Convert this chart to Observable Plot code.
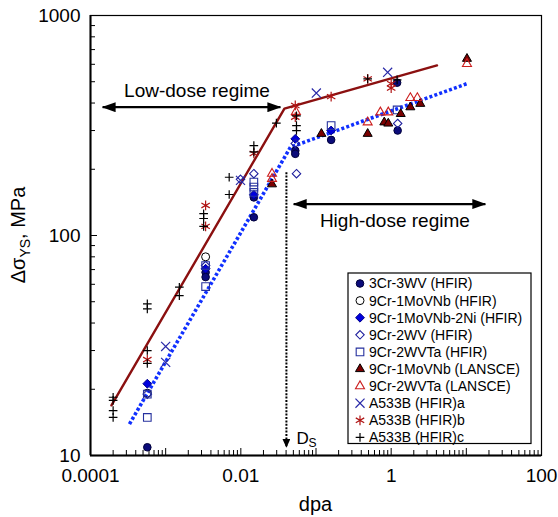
<!DOCTYPE html>
<html><head><meta charset="utf-8">
<script src="https://cdn.jsdelivr.net/npm/d3@7"></script>
<script src="https://cdn.jsdelivr.net/npm/@observablehq/plot@0.6"></script>
<style>body{margin:0;background:#fff;} #chart{width:558px;height:517px;}</style>
</head><body><div id="chart"></div>
<script>
// ---------------- data (dpa, Δσ_YS MPa) ----------------
const cr3wvHFIR      = [[5.7e-4,10.9],[3.4e-3,68],[3.4e-3,64.7],[0.0149,149],[0.0149,121],[0.053,243],[0.053,235],[0.159,272],[1.22,300],[1.2,495]];
const mo9VNbHFIR     = [[5.7e-4,19.2],[3.4e-3,80]];
const mo9VNb2NiHFIR  = [[5.7e-4,21.2],[3.4e-3,70.6],[0.0149,153],[0.053,275],[0.159,300]];
const wv9HFIR        = [[5.7e-4,19],[3.4e-3,73],[0.0099,180],[0.0149,191],[0.055,191],[0.053,262],[1.22,323]];
const wvta9HFIR      = [[5.7e-4,14.9],[5.7e-4,19],[3.4e-3,73],[3.4e-3,58.6],[0.0149,175],[0.0149,166],[0.0149,157],[0.159,316],[1.2,372]];
const mo9VNbLANSCE   = [[0.026,171],[0.118,290],[0.487,290],[0.81,327],[0.915,323],[1.34,357],[1.8,383],[2.44,397],[10.2,636]];
const wvta9LANSCE    = [[0.026,191],[0.026,181],[0.054,365],[0.487,327],[0.718,363],[0.915,363],[1.8,422],[2.23,422],[10.2,603]];
const a533bA         = [[1.0e-3,31.3],[1.0e-3,26.5],[0.0099,178],[0.101,444],[0.898,552]];
const a533bB         = [[5.7e-4,27.3],[3.4e-3,137],[3.4e-3,110],[0.0149,236],[0.053,390],[0.053,345],[0.159,428],[0.487,515],[1.0,490],[1.0,468]];
const a533bC         = [[2e-4,18.4],[2e-4,17.8],[2e-4,16.0],[2e-4,14.9],[5.7e-4,30],[5.7e-4,26.2],[5.7e-4,48.9],[5.7e-4,46.4],[1.52e-3,58.2],[1.52e-3,53.3],[3.2e-3,125.6],[3.2e-3,119.5],[3.2e-3,110],[7.0e-3,184],[7.0e-3,153.6],[0.0149,256],[0.0149,240],[0.055,350],[0.055,316],[0.055,300],[0.0297,324],[0.487,515],[1.2,510]];

// fitted trend lines
const redFit  = [[1.9e-4,16.9],[0.038,377],[4.07,593]];
const blueFit = [[3.3e-4,13.9],[0.0457,252],[10.2,490]];

// annotations
const lowDoseArrow  = [[1.45e-4, 0.0336, 383]];
const highDoseArrow = [[0.0505, 17.9, 139]];
const dsLine        = [[0.0404, 194, 10.95]];
const lowDoseLabel  = [[2.61e-3, 425, "Low-dose regime"]];
const highDoseLabel = [[1.12, 109, "High-dose regime"]];
const dsLabel       = [[0.0404, 11.3, "D"]];
const dsSub         = [[0.0404, 10.9, "S"]];

// axis ticks
const xLabelTicks = [1e-4, 1e-2, 1, 100];
const xLabelText  = ["0.0001", "0.01", "1", "100"];
const yLabelTicks = [10, 100, 1000];
const yLabelText  = ["10", "100", "1000"];
const xDecades = [1e-4, 1e-3, 1e-2, 1e-1, 1, 10, 100];
const yDecades = [10, 100, 1000];
const minorMult = [2, 3, 4, 5, 6, 7, 8, 9];

// ---------------- styles ----------------
const series = [
  {name:"3Cr-3WV (HFIR)",        data:cr3wvHFIR,     symbol:"circle",    r:3.8, fill:"#0b0b7a", stroke:"#00003a", sw:1},
  {name:"9Cr-1MoVNb (HFIR)",     data:mo9VNbHFIR,    symbol:"circle",    r:4.0, fill:"none",    stroke:"#000",    sw:1},
  {name:"9Cr-1MoVNb-2Ni (HFIR)", data:mo9VNb2NiHFIR, symbol:"diamond2",  r:4.0, fill:"#0000dd", stroke:"#00008b", sw:1},
  {name:"9Cr-2WV (HFIR)",        data:wv9HFIR,       symbol:"diamond2",  r:3.8, fill:"none",    stroke:"#1f1f9e", sw:1.1},
  {name:"9Cr-2WVTa (HFIR)",      data:wvta9HFIR,     symbol:"square",    r:4.3, fill:"none",    stroke:"#26319e", sw:1.1},
  {name:"9Cr-1MoVNb (LANSCE)",   data:mo9VNbLANSCE,  symbol:"triangle2", r:4.3, fill:"#7a0000", stroke:"#000",    sw:1},
  {name:"9Cr-2WVTa (LANSCE)",    data:wvta9LANSCE,   symbol:"triangle2", r:4.3, fill:"none",    stroke:"#cc1f1f", sw:1.1},
  {name:"A533B (HFIR)a",         data:a533bA,        symbol:"times",     r:4.2, fill:"none",    stroke:"#2929a8", sw:1.2},
  {name:"A533B (HFIR)b",         data:a533bB,        symbol:"asterisk",  r:4.6, fill:"none",    stroke:"#b01515", sw:1.2},
  {name:"A533B (HFIR)c",         data:a533bC,        symbol:"plus",      r:2.9, fill:"none",    stroke:"#000",    sw:1.2}
];

const W = 558, H = 517, mL = 90, mR = 17, mT = 15, mB = 62;
const plotW = W - mL - mR, plotH = H - mT - mB;
const FONT = "'Liberation Sans', Arial, Helvetica, sans-serif";

const xMinor = xDecades.slice(0, -1).flatMap(d => minorMult.map(m => d * m));
const yMinor = yDecades.slice(0, -1).flatMap(d => minorMult.map(m => d * m));

const px = d => d[0], py = d => d[1];

const chart = Plot.plot({
  width: W, height: H,
  marginLeft: mL, marginRight: mR, marginTop: mT, marginBottom: mB,
  style: {fontFamily: FONT, fontSize: "19px", background: "#fff", color: "#000"},
  x: {type: "log", domain: [1e-4, 100], ticks: xLabelTicks, tickFormat: d => xLabelText[xLabelTicks.indexOf(d)] ?? "", tickSize: 0, tickPadding: 13, label: null},
  y: {type: "log", domain: [10, 1000], ticks: yLabelTicks, tickFormat: d => yLabelText[yLabelTicks.indexOf(d)] ?? "", tickSize: 0, tickPadding: 10, label: null},
  marks: [
    Plot.frame({stroke: "#000", strokeWidth: 1.2}),
    Plot.ruleX([1e-4], {stroke: "#000", strokeWidth: 2}),
    Plot.ruleY([10], {stroke: "#000", strokeWidth: 2}),
    Plot.tickX(xMinor, {x: d => d, insetTop: plotH - 5, stroke: "#000", strokeWidth: 1}),
    Plot.tickX(xDecades, {x: d => d, insetTop: plotH - 7, stroke: "#000", strokeWidth: 1}),
    Plot.tickY(yMinor, {y: d => d, insetRight: plotW - 5, stroke: "#000", strokeWidth: 1}),
    Plot.tickY(yDecades, {y: d => d, insetRight: plotW - 7, stroke: "#000", strokeWidth: 1}),
    Plot.line(redFit, {x: px, y: py, stroke: "#8b1010", strokeWidth: 2.4}),
    Plot.line(blueFit, {x: px, y: py, stroke: "#1030ff", strokeWidth: 3.6, strokeDasharray: "3,2.2", strokeLinecap: "butt", strokeLinejoin: "miter"}),
    Plot.link(lowDoseArrow, {x1: d => d[0], x2: d => d[1], y1: d => d[2], y2: d => d[2], stroke: "#000", strokeWidth: 2.3, className: "dblarrow"}),
    Plot.link(highDoseArrow, {x1: d => d[0], x2: d => d[1], y1: d => d[2], y2: d => d[2], stroke: "#000", strokeWidth: 2.3, className: "dblarrow"}),
    Plot.link(dsLine, {x1: d => d[0], x2: d => d[0], y1: d => d[1], y2: d => d[2], stroke: "#000", strokeWidth: 2, strokeDasharray: "2,1.4", strokeLinecap: "butt", className: "dsarrow"}),
    Plot.text(lowDoseLabel, {x: px, y: py, text: d => d[2], fontSize: 19, lineAnchor: "bottom", textAnchor: "middle", fill: "#000"}),
    Plot.text(highDoseLabel, {x: px, y: py, text: d => d[2], fontSize: 19, lineAnchor: "bottom", textAnchor: "middle", fill: "#000"}),
    Plot.text(dsLabel, {x: px, y: py, text: d => d[2], fontSize: 17, lineAnchor: "bottom", textAnchor: "start", dx: 10, fill: "#000"}),
    Plot.text(dsSub, {x: px, y: py, text: d => d[2], fontSize: 12, lineAnchor: "bottom", textAnchor: "start", dx: 22, fill: "#000"}),
    ...series.map(s => Plot.dot(s.data, {x: px, y: py, symbol: s.symbol, r: s.r, fill: s.fill, stroke: s.stroke, strokeWidth: s.sw}))
  ]
});
document.getElementById("chart").appendChild(chart);

// ---------------- decorations: arrowheads, axis titles, legend ----------------
const svg = d3.select(chart);
const defs = svg.insert("defs", ":first-child");
defs.append("marker").attr("id", "ah").attr("viewBox", "0 0 14 10").attr("refX", 13).attr("refY", 5)
  .attr("markerWidth", 14).attr("markerHeight", 10).attr("markerUnits", "userSpaceOnUse").attr("orient", "auto-start-reverse")
  .append("path").attr("d", "M0,0L14,5L0,10Z").attr("fill", "#000").attr("stroke", "none");
defs.append("marker").attr("id", "ahs").attr("viewBox", "0 0 9 8").attr("refX", 8).attr("refY", 4)
  .attr("markerWidth", 9).attr("markerHeight", 8).attr("markerUnits", "userSpaceOnUse").attr("orient", "auto")
  .append("path").attr("d", "M0,0L9,4L0,8Z").attr("fill", "#000").attr("stroke", "none");
svg.selectAll(".dblarrow path").attr("marker-start", "url(#ah)").attr("marker-end", "url(#ah)");
svg.selectAll(".dsarrow path").attr("marker-end", "url(#ahs)");

// axis titles
svg.append("text").attr("x", mL + plotW / 2).attr("y", 511).attr("text-anchor", "middle")
  .attr("font-family", FONT).attr("font-size", 20).attr("fill", "#000").text("dpa");
const yt = svg.append("text").attr("transform", `translate(25,${mT + plotH / 2}) rotate(-90)`).attr("text-anchor", "middle")
  .attr("font-family", FONT).attr("font-size", 20).attr("fill", "#000");
yt.append("tspan").text("Δσ");
yt.append("tspan").attr("font-size", 14).attr("dy", 5).text("YS");
yt.append("tspan").attr("dy", -5).text(", MPa");

// legend
const symMap = {circle: d3.symbolCircle, diamond2: d3.symbolDiamond2, square: d3.symbolSquare, triangle2: d3.symbolTriangle2, times: d3.symbolTimes, asterisk: d3.symbolAsterisk, plus: d3.symbolPlus};
const lg = svg.append("g").attr("font-family", FONT).attr("font-size", 14).attr("text-anchor", "start");
lg.append("rect").attr("x", 348).attr("y", 273).attr("width", 183).attr("height", 170.5)
  .attr("fill", "#fff").attr("stroke", "#000").attr("stroke-width", 1.2);
series.forEach((s, i) => {
  const cy = 283.5 + i * 17.1;
  lg.append("path").attr("transform", `translate(360,${cy})`)
    .attr("d", d3.symbol(symMap[s.symbol], Math.PI * s.r * s.r)())
    .attr("fill", s.fill).attr("stroke", s.stroke).attr("stroke-width", s.sw);
  lg.append("text").attr("x", 369).attr("y", cy).attr("dy", "0.35em").attr("text-anchor", "start").attr("fill", "#000").text(s.name);
});
</script>
</body></html>
